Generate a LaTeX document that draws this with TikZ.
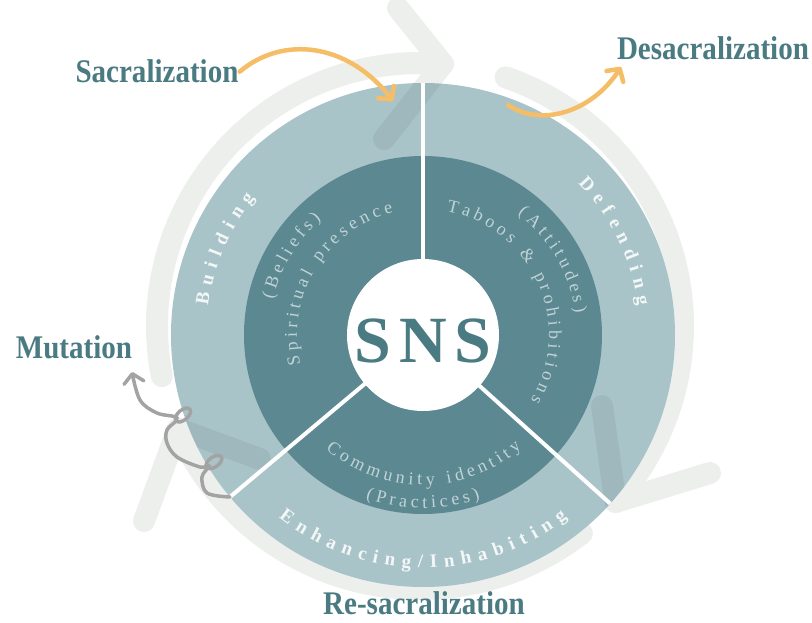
\documentclass[tikz,border=0pt]{standalone}
\usepackage{fontspec}
\setmainfont{Liberation Serif}
\newfontfamily\labfont{Liberation Serif}[FakeStretch=0.88]
\usetikzlibrary{arrows.meta}
\definecolor{ringc}{HTML}{A9C4C9}
\definecolor{darkc}{HTML}{5C8991}
\definecolor{labc}{HTML}{4B7B82}
\definecolor{orangec}{HTML}{F5BE66}
\definecolor{greyc}{HTML}{A3A3A3}
\definecolor{wmc}{HTML}{EDEFED}
\definecolor{innertxt}{HTML}{C0D3D6}
\definecolor{ringtxt}{HTML}{F3F7F7}
\newcommand\LP{(}
\newcommand\RP{)}
\newcommand\ringF{\fontsize{19}{19}\selectfont\bfseries\color{ringtxt}}
\newcommand\innerF{\fontsize{18}{18}\selectfont\color{innertxt}}
\newdimen\arcWd
\newcount\awN
% measure widths outside the picture: #1 key, #2 font, #3 list
\newcommand\measureArc[3]{%
  \global\awN=0
  \foreach \ch in {#3}{\setbox0=\hbox{#2\ch}\global\advance\awN by 1
    \expandafter\xdef\csname aw@#1@\the\awN\endcsname{\the\wd0}}}
% #1 key, #2 mid angle, #3 baseline radius, #4 tracking, #5 font, #6 sign (+1 top, -1 bottom), #7 list
\newcommand\arcText[7]{%
  \global\arcWd=0pt
  \foreach \ch [count=\i] in {#7}{\global\advance\arcWd by \csname aw@#1@\i\endcsname\global\advance\arcWd by #4pt}%
  \global\advance\arcWd by -#4pt
  \edef\arcW{\the\arcWd}%
  \pgfmathsetmacro\arcTot{\arcW/#3*57.29578}%
  \pgfmathsetmacro\arcCur{#2+(#6)*\arcTot/2}%
  \global\let\arcCurG\arcCur
  \foreach \ch [count=\i] in {#7}{%
    \edef\chw{\csname aw@#1@\i\endcsname}%
    \pgfmathsetmacro\chAng{\arcCurG-(#6)*\chw/#3*28.64789}%
    \pgfmathsetmacro\chRot{\chAng-(#6)*90}%
    \node[inner sep=0pt,anchor=base,rotate=\chRot] at (\chAng:#3pt) {#5\ch};
    \pgfmathsetmacro\nx{\arcCurG-(#6)*(\chw+#4)/#3*57.29578}%
    \global\let\arcCurG\nx
  }}
\tikzset{
  wm/.style={draw=wmc, line width=22pt, line cap=round, line join=round},
  wmo/.style={draw=black, draw opacity=0.06, line width=22pt, line cap=round, line join=round},
  divider/.style={draw=white, line width=4pt},
  lab/.style={text=labc, font=\labfont\bfseries\fontsize{33}{33}\selectfont, inner sep=1pt, anchor=base},
  orarr/.style={draw=orangec, line width=4.5pt, line cap=round, -{Straight Barb[length=9pt,width=20pt,round]}},
  mutarr/.style={draw=greyc, line width=3.5pt, line cap=round, -{Straight Barb[length=9pt,width=20pt,round]}},
  loopst/.style={draw=greyc, line width=3.5pt}
}
\begin{document}
\measureArc{bui}{\ringF}{B,u,i,l,d,i,n,g}
\measureArc{def}{\ringF}{D,e,f,e,n,d,i,n,g}
\measureArc{enh}{\ringF}{E,n,h,a,n,c,i,n,g,/,I,n,h,a,b,i,t,i,n,g}
\measureArc{spi}{\innerF}{S,p,i,r,i,t,u,a,l,~,p,r,e,s,e,n,c,e}
\measureArc{bel}{\innerF}{\LP,B,e,l,i,e,f,s,\RP}
\measureArc{tab}{\innerF}{T,a,b,o,o,s,~,\&,~,p,r,o,h,i,b,i,t,i,o,n,s}
\measureArc{att}{\innerF}{\LP,A,t,t,i,t,u,d,e,s,\RP}
\measureArc{com}{\innerF}{C,o,m,m,u,n,i,t,y,~,i,d,e,n,t,i,t,y}
\measureArc{pra}{\innerF}{\LP,P,r,a,c,t,i,c,e,s,\RP}%
\begin{tikzpicture}[x=1pt,y=1pt]
\useasboundingbox (-423,-287) rectangle (389,335);
\fill[white] (-423,-287) rectangle (389,335);
% background circular arrows (watermark)
\begin{scope}[shift={(-3,9)}]
  \draw[wm] (191:263) arc[start angle=191,end angle=85,radius=263];
  \draw[wm] (-22,318) -- (85:263) -- (-36,187);
  \draw[wm] (71:263) arc[start angle=71,end angle=-42,radius=263];
  \draw[wm] (182,-80) -- (-42:263) -- (290,-147);
  \draw[wm] (-52:263) arc[start angle=-52,end angle=-157,radius=263];
  \draw[wm] (-276,-195) -- (-157:263) -- (-160,-133);
\end{scope}
% disc
\fill[ringc] (0,0) circle (252);
\fill[darkc] (0,0) circle (179);
\begin{scope}
  \clip (0,0) circle (252);
  \begin{scope}[shift={(-3,9)}]
    \draw[wmo] (-22,318) -- (85:263) -- (-36,187);
    \draw[wmo] (182,-80) -- (-42:263) -- (290,-147);
    \draw[wmo] (-276,-195) -- (-157:263) -- (-160,-133);
  \end{scope}
\end{scope}
\draw[divider] (90:70) -- (90:252);
\draw[divider] (220:70) -- (220:252);
\draw[divider] (318:70) -- (318:252);
\fill[white] (0,0) circle (76);
\node[name=sns, text=labc, font=\fontsize{66}{66}\selectfont\bfseries, inner sep=0pt, anchor=base] at (0,-27) {S\kern8pt N\kern8pt S};
% ring labels
\arcText{bui}{156.5}{217}{7}{\ringF}{1}{B,u,i,l,d,i,n,g}
\arcText{def}{26}{217}{7}{\ringF}{1}{D,e,f,e,n,d,i,n,g}
\arcText{enh}{270}{233}{7}{\ringF}{-1}{E,n,h,a,n,c,i,n,g,/,I,n,h,a,b,i,t,i,n,g}
% inner labels
\arcText{spi}{148.5}{126}{4}{\innerF}{1}{S,p,i,r,i,t,u,a,l,~,p,r,e,s,e,n,c,e}
\arcText{bel}{149}{154}{4}{\innerF}{1}{\LP,B,e,l,i,e,f,s,\RP}
\arcText{tab}{24}{126}{4}{\innerF}{1}{T,a,b,o,o,s,~,\&,~,p,r,o,h,i,b,i,t,i,o,n,s}
\arcText{att}{30}{154}{4}{\innerF}{1}{\LP,A,t,t,i,t,u,d,e,s,\RP}
\arcText{com}{270.3}{150}{4}{\innerF}{-1}{C,o,m,m,u,n,i,t,y,~,i,d,e,n,t,i,t,y}
\arcText{pra}{270}{173}{4}{\innerF}{-1}{\LP,P,r,a,c,t,i,c,e,s,\RP}
% outer labels
\node[lab, name=sac] at (-266,252) {Sacralization};
\node[lab, name=desac] at (290,275) {Desacralization};
\node[lab, name=mut] at (-349,-23) {Mutation};
\node[lab, name=resac] at (1,-279) {Re-sacralization};
% arrows
\coordinate (sacTip) at (-30,234);
\draw[orarr] (sac.east) .. controls (-140,300) and (-75,292) .. (sacTip);
\coordinate (desStart) at (85,230);
\coordinate (desTip) at (198,268);
\draw[orarr] (desStart) .. controls (117,208) and (168,222) .. (desTip);
\coordinate (mutStart) at (-193,-162);
\coordinate (mutTip) at (-291,-37);
\draw[mutarr] plot[smooth, tension=0.6] coordinates {(-193,-162) (-216,-158) (-221,-142) (-214,-131) (-223,-132) (-246,-122) (-256,-108) (-256,-95) (-246,-83) (-266,-78) (-283,-65) (-291,-37)};
\draw[loopst, rotate around={35:(-209,-127)}] (-209,-127) ellipse [x radius=9, y radius=5];
\draw[loopst, rotate around={40:(-240,-80)}] (-240,-80) ellipse [x radius=9, y radius=5];
\end{tikzpicture}
\end{document}
